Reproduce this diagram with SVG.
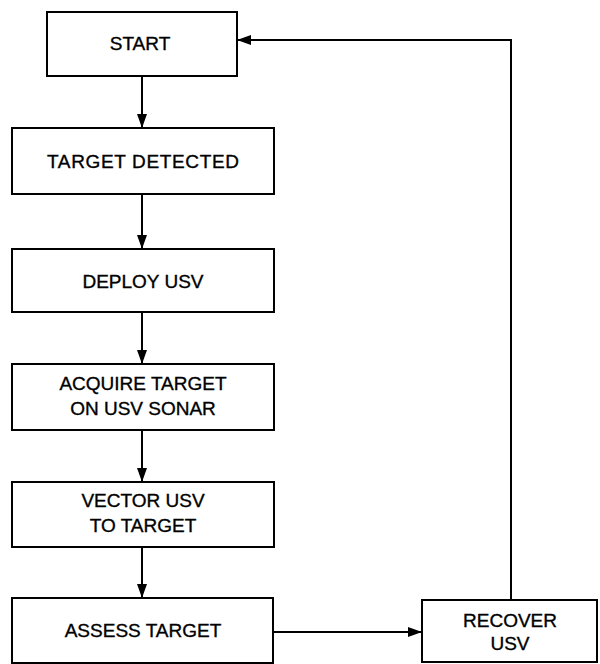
<svg xmlns="http://www.w3.org/2000/svg" width="600" height="664" viewBox="0 0 600 664">
<style>
.box{fill:#fff;stroke:#000;stroke-width:2}
.t{font-family:"Liberation Sans",Arial,sans-serif;font-size:19px;fill:#000;stroke:#000;stroke-width:0.35;text-anchor:middle}
.c{fill:none;stroke:#000;stroke-width:2}
</style>
<defs>
<marker id="ah" viewBox="0 0 14 10" refX="14" refY="5" markerWidth="14" markerHeight="10" markerUnits="userSpaceOnUse" orient="auto">
<path d="M0,0 L14,5 L0,10 Z" fill="#000"/>
</marker>
</defs>
<rect width="600" height="664" fill="#fff"/>
<g id="connectors">
<line class="c" x1="142" y1="76" x2="142" y2="128" marker-end="url(#ah)"/>
<line class="c" x1="142" y1="194" x2="142" y2="249" marker-end="url(#ah)"/>
<line class="c" x1="142" y1="312" x2="142" y2="364" marker-end="url(#ah)"/>
<line class="c" x1="142" y1="430" x2="142" y2="482" marker-end="url(#ah)"/>
<line class="c" x1="142" y1="547" x2="142" y2="598" marker-end="url(#ah)"/>
<line class="c" x1="273" y1="632" x2="422" y2="632" marker-end="url(#ah)"/>
<polyline class="c" points="511,600 511,40 237,40" marker-end="url(#ah)"/>
</g>
<g id="start">
<rect class="box" x="47" y="12" width="190" height="64"/>
<text class="t" x="140" y="50">START</text>
</g>
<g id="target-detected">
<rect class="box" x="12" y="128" width="262" height="66"/>
<text class="t" x="143" y="168" textLength="192" lengthAdjust="spacing">TARGET DETECTED</text>
</g>
<g id="deploy-usv">
<rect class="box" x="12" y="249" width="262" height="63"/>
<text class="t" x="143" y="288">DEPLOY USV</text>
</g>
<g id="acquire-target">
<rect class="box" x="12" y="364" width="262" height="66"/>
<text class="t" x="143" y="390">ACQUIRE TARGET</text>
<text class="t" x="143" y="415">ON USV SONAR</text>
</g>
<g id="vector-usv">
<rect class="box" x="12" y="482" width="262" height="65"/>
<text class="t" x="143" y="507">VECTOR USV</text>
<text class="t" x="143" y="532">TO TARGET</text>
</g>
<g id="assess-target">
<rect class="box" x="12" y="598" width="261" height="65"/>
<text class="t" x="143" y="637">ASSESS TARGET</text>
</g>
<g id="recover-usv">
<rect class="box" x="422" y="600" width="175" height="62"/>
<text class="t" x="510" y="627">RECOVER</text>
<text class="t" x="510" y="650">USV</text>
</g>
</svg>
